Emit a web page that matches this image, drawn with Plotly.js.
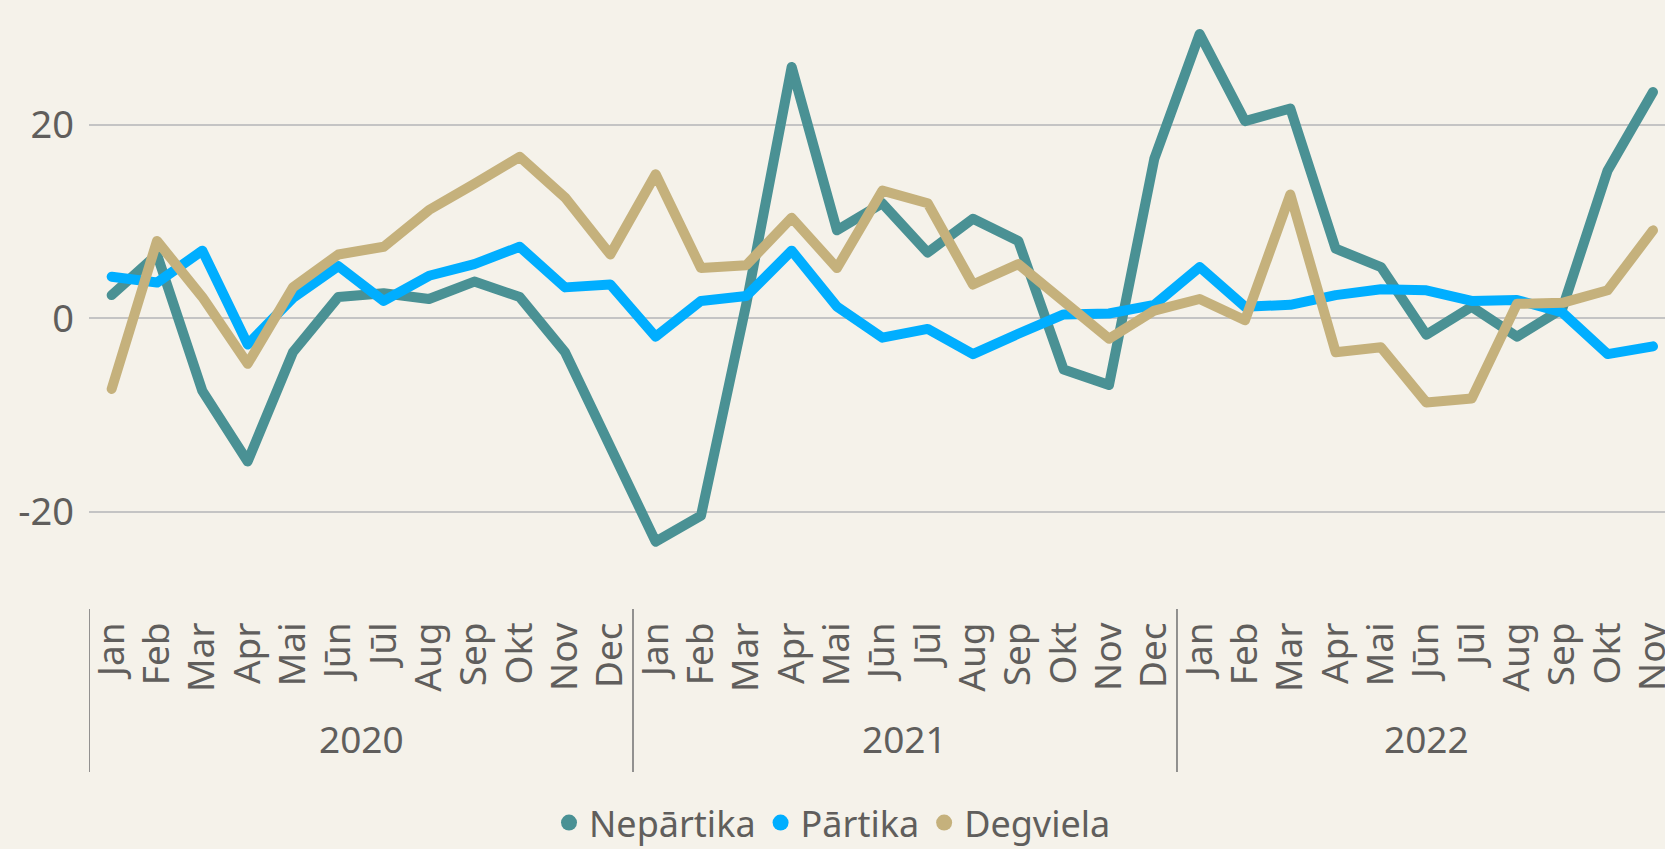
<!DOCTYPE html>
<html>
<head>
<meta charset="utf-8">
<script src="https://cdn.plot.ly/plotly-3.0.1.min.js"></script>
<style>
  html, body { margin: 0; padding: 0; background: #F5F2EA; }
  #chart { width: 1665px; height: 849px; }
  #chart .js-line { stroke-linejoin: round !important; stroke-linecap: round !important; }
</style>
</head>
<body>
<div id="chart"></div>
<script>
// ---- data ----
const years = ['2020', '2021', '2022'];
const monthsPerYear = [12, 12, 11];
const months = [
  'Jan','Feb','Mar','Apr','Mai','Jūn','Jūl','Aug','Sep','Okt','Nov','Dec',
  'Jan','Feb','Mar','Apr','Mai','Jūn','Jūl','Aug','Sep','Okt','Nov','Dec',
  'Jan','Feb','Mar','Apr','Mai','Jūn','Jūl','Aug','Sep','Okt','Nov'
];
const seriesNames = ['Nepārtika', 'Pārtika', 'Degviela'];
const nepartika = [2.4, 6.6, -7.5, -14.8, -3.5, 2.2, 2.6, 2.0, 3.8, 2.2, -3.5, -13.6,
  -23.1, -20.4, 1.5, 26.0, 9.1, 11.9, 6.8, 10.3, 8.0, -5.3, -6.9, 16.5,
  29.4, 20.4, 21.7, 7.2, 5.3, -1.7, 1.2, -1.9, 1.0, 15.3, 23.4];
const partika = [4.3, 3.7, 7.0, -2.7, 2.1, 5.4, 1.8, 4.4, 5.6, 7.4, 3.2, 3.5,
  -1.9, 1.8, 2.3, 7.0, 1.2, -2.0, -1.1, -3.7, -1.6, 0.4, 0.5, 1.4,
  5.3, 1.2, 1.4, 2.4, 3.0, 2.9, 1.8, 1.9, 0.6, -3.7, -2.9];
const degviela = [-7.3, 8.0, 2.2, -4.7, 3.2, 6.6, 7.4, 11.2, 13.9, 16.7, 12.5, 6.6,
  14.9, 5.2, 5.5, 10.4, 5.2, 13.2, 11.9, 3.5, 5.6, 1.6, -2.1, 0.8,
  2.0, -0.2, 12.8, -3.5, -3.0, -8.7, -8.3, 1.5, 1.6, 2.9, 9.1];
const yTicks = [-20, 0, 20];

// ---- styling ----
const colors = ['#4A9194', '#00AEFF', '#C5B17C'];
const textColor = '#605E5C';
const FONT = '"Segoe UI", "Noto Sans", "Open Sans", sans-serif';
const bg = '#F5F2EA';

const xIdx = months.map((m, i) => i);
const values = [nepartika, partika, degviela];

const traces = [];
values.forEach((vals, k) => {
  traces.push({
    type: 'scatter', mode: 'lines', name: seriesNames[k],
    x: xIdx, y: vals,
    line: { color: colors[k], width: 10, shape: 'linear' },
    showlegend: false, hoverinfo: 'x+y'
  });
});
// legend-only marker entries
values.forEach((vals, k) => {
  traces.push({
    type: 'scatter', mode: 'markers', name: seriesNames[k],
    x: [null], y: [null],
    marker: { color: colors[k], size: 23, symbol: 'circle' },
    showlegend: true
  });
});

// year group separators and labels
const shapes = [];
const annotations = [];
let start = 0;
years.forEach((yr, i) => {
  const n = monthsPerYear[i];
  shapes.push({
    type: 'line', xref: 'x', yref: 'paper',
    x0: start - 0.5, x1: start - 0.5, y0: -0.2867, y1: -0.015,
    line: { color: '#808080', width: 1.7 }
  });
  annotations.push({
    xref: 'x', yref: 'paper', x: start + (n - 1) / 2, y: -0.23,
    xanchor: 'center', yanchor: 'middle', showarrow: false,
    text: yr, font: { family: FONT, size: 37, color: textColor }
  });
  start += n;
});

const layout = {
  width: 1665, height: 849,
  paper_bgcolor: bg, plot_bgcolor: bg,
  margin: { l: 89, r: 0, t: 0, b: 249 },
  font: { family: FONT, color: textColor, size: 37 },
  xaxis: {
    range: [-0.5, 34.265],
    tickmode: 'array', tickvals: xIdx, ticktext: months,
    tickangle: -90, showgrid: false, zeroline: false, showline: false,
    ticks: '', ticklabelstandoff: 14, ticklabeloverflow: 'allow',
    tickfont: { family: FONT, size: 37, color: textColor },
    fixedrange: true
  },
  yaxis: {
    range: [-29.13, 32.92],
    tickmode: 'array', tickvals: yTicks, ticktext: yTicks.map(String),
    showgrid: true, gridcolor: '#C4C4C4', gridwidth: 2,
    zeroline: false, showline: false, ticks: '', ticklabelstandoff: 14,
    tickfont: { family: FONT, size: 38, color: textColor },
    fixedrange: true
  },
  legend: {
    orientation: 'h', xref: 'container', yref: 'container',
    x: 0.5, xanchor: 'center', y: 0.031, yanchor: 'middle',
    font: { family: FONT, size: 36, color: textColor },
    bgcolor: 'rgba(0,0,0,0)', itemsizing: 'trace'
  },
  shapes: shapes,
  annotations: annotations,
  showlegend: true
};

Plotly.newPlot('chart', traces, layout, { displayModeBar: false, staticPlot: true });
</script>
</body>
</html>
